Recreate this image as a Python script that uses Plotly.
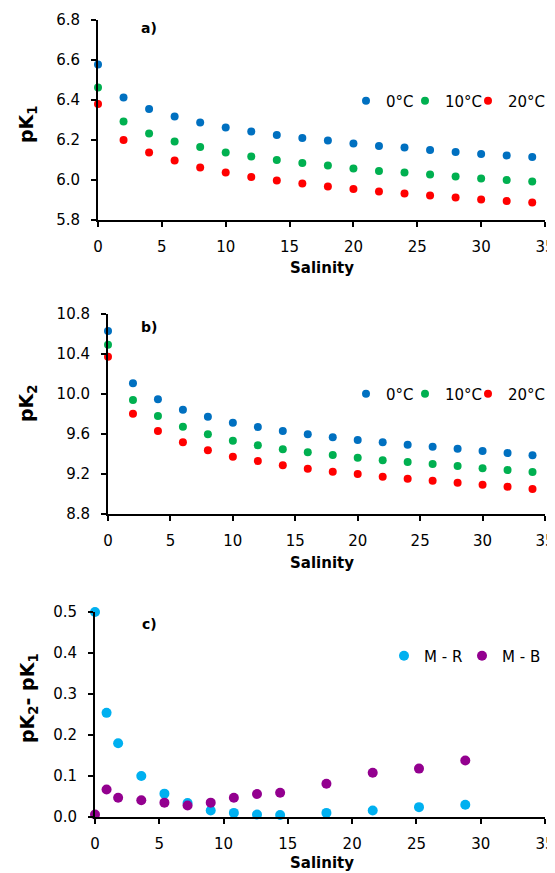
import plotly.graph_objects as go

# salinity steps for panels a) and b)
sal = [0, 2, 4, 6, 8, 10, 12, 14, 16, 18, 20, 22, 24, 26, 28, 30, 32, 34]

# pK1 at 0, 10, 20 degC
pk1_t0 = [6.578, 6.412, 6.355, 6.317, 6.287, 6.263, 6.242, 6.225, 6.21, 6.197,
          6.183, 6.17, 6.162, 6.15, 6.14, 6.13, 6.123, 6.115]
pk1_t10 = [6.462, 6.292, 6.233, 6.193, 6.165, 6.138, 6.118, 6.1, 6.085, 6.072,
           6.058, 6.045, 6.037, 6.027, 6.018, 6.008, 6.0, 5.992]
pk1_t20 = [6.38, 6.2, 6.138, 6.097, 6.063, 6.038, 6.015, 5.998, 5.982, 5.967,
           5.955, 5.943, 5.932, 5.922, 5.912, 5.903, 5.895, 5.888]

# pK2 at 0, 10, 20 degC
pk2_t0 = [10.63, 10.107, 9.947, 9.843, 9.773, 9.713, 9.67, 9.63, 9.597, 9.567,
          9.54, 9.517, 9.493, 9.473, 9.453, 9.43, 9.41, 9.387]
pk2_t10 = [10.493, 9.94, 9.78, 9.673, 9.597, 9.533, 9.487, 9.447, 9.417, 9.39,
           9.363, 9.337, 9.32, 9.3, 9.28, 9.257, 9.24, 9.22]
pk2_t20 = [10.373, 9.803, 9.63, 9.517, 9.437, 9.373, 9.33, 9.287, 9.253, 9.223,
           9.2, 9.173, 9.153, 9.133, 9.113, 9.093, 9.073, 9.05]

# panel c) differences
sal_c = [0, 0.9, 1.8, 3.6, 5.4, 7.2, 9.0, 10.8, 12.6, 14.4, 18.0, 21.6, 25.2, 28.8]
diff_mr = [0.5, 0.254, 0.18, 0.1, 0.057, 0.034, 0.016, 0.01, 0.006, 0.005,
           0.01, 0.016, 0.024, 0.03]
diff_mb = [0.006, 0.067, 0.047, 0.041, 0.035, 0.028, 0.035, 0.047, 0.056, 0.059,
           0.081, 0.108, 0.118, 0.138]

temps = ["0°C", "10°C", "20°C"]
cols = ["#0070C0", "#00B050", "#FF0000"]
FONT = "DejaVu Sans"

# page has an 8px body margin, so the figure is drawn 8px in from the corner
OFF = 8
W, H = 555 - OFF, 873 - OFF
XEND = 545  # right end of the x axes (px)


def px(p):
    return (p - OFF) / W


def py(p):
    return 1 - (p - OFF) / H


fig = go.Figure()

# one legend per entry so each entry can sit where the original has it
leg_a = [("legend", 366), ("legend2", 425), ("legend3", 488)]
leg_b = [("legend4", 366), ("legend5", 425), ("legend6", 488)]
leg_c = [("legend7", 404), ("legend8", 482)]

for name, ys, c, (lg, _) in zip(temps, [pk1_t0, pk1_t10, pk1_t20], cols, leg_a):
    fig.add_trace(go.Scatter(x=sal, y=ys, mode="markers", name=name, cliponaxis=False,
                             marker=dict(color=c, size=8), xaxis="x", yaxis="y", legend=lg))
for name, ys, c, (lg, _) in zip(temps, [pk2_t0, pk2_t10, pk2_t20], cols, leg_b):
    fig.add_trace(go.Scatter(x=sal, y=ys, mode="markers", name=name, cliponaxis=False,
                             marker=dict(color=c, size=8), xaxis="x2", yaxis="y2", legend=lg))
fig.add_trace(go.Scatter(x=sal_c, y=diff_mr, mode="markers", name="M - R", cliponaxis=False,
                         marker=dict(color="#00B0F0", size=10), xaxis="x3", yaxis="y3",
                         legend=leg_c[0][0]))
fig.add_trace(go.Scatter(x=sal_c, y=diff_mb, mode="markers", name="M - B", cliponaxis=False,
                         marker=dict(color="#93008F", size=10), xaxis="x3", yaxis="y3",
                         legend=leg_c[1][0]))


def xax(x0, anchor):
    return dict(domain=[px(x0), px(XEND)], range=[0, 35], dtick=5, tick0=0, anchor=anchor,
                showline=True, linecolor="black", linewidth=2, ticks="outside", ticklen=5,
                tickwidth=2, tickcolor="black", showgrid=False, zeroline=False, automargin=False,
                ticklabelstandoff=7, ticklabeloverflow="allow",
                tickfont=dict(size=15, color="black"))


def yax(top, bot, rng, dt, anchor):
    return dict(domain=[py(bot), py(top)], range=rng, dtick=dt, tick0=rng[0], anchor=anchor,
                tickformat=".1f", showline=True, linecolor="black", linewidth=2,
                ticks="outside", ticklen=5, tickwidth=2, tickcolor="black", showgrid=False,
                zeroline=False, automargin=False, ticklabelstandoff=8,
                tickfont=dict(size=15, color="black"))


def leg(marker_x, y):
    # symbol centre sits about 20px right of the legend's left edge
    return dict(orientation="h", x=px(marker_x - 20), xanchor="left", y=py(y), yanchor="middle",
                font=dict(size=15, color="black"), bgcolor="rgba(0,0,0,0)",
                borderwidth=0, itemwidth=30)


legends = {}
for lg, mx in leg_a:
    legends[lg] = leg(mx, 101)
for lg, mx in leg_b:
    legends[lg] = leg(mx, 394)
for lg, mx in leg_c:
    legends[lg] = leg(mx, 656)

ann = []
for txt, y in [("a)", 28), ("b)", 327), ("c)", 624)]:
    ann.append(dict(text="<b>%s</b>" % txt, x=px(149), y=py(y), xref="paper", yref="paper",
                    xanchor="center", yanchor="middle", showarrow=False,
                    font=dict(size=14, color="black")))
for y in [268, 563, 863]:
    ann.append(dict(text="<b>Salinity</b>", x=px(322), y=py(y), xref="paper", yref="paper",
                    xanchor="center", yanchor="middle", showarrow=False,
                    font=dict(size=15, color="black")))
for txt, y in [("pK<sub>1</sub>", 124), ("pK<sub>2</sub>", 403), ("pK<sub>2</sub>- pK<sub>1</sub>", 698)]:
    ann.append(dict(text="<b>%s</b>" % txt, x=px(28), y=py(y), xref="paper", yref="paper",
                    xanchor="center", yanchor="middle", showarrow=False, textangle=-90,
                    font=dict(size=19, color="black")))

fig.update_layout(
    width=W, height=H, margin=dict(l=0, r=0, t=0, b=0, pad=0, autoexpand=False),
    paper_bgcolor="white", plot_bgcolor="white",
    font=dict(family=FONT, color="black"),
    xaxis=xax(98, "y"), yaxis=yax(20, 220, [5.8, 6.8], 0.2, "x"),
    xaxis2=xax(108, "y2"), yaxis2=yax(314, 514, [8.8, 10.8], 0.4, "x2"),
    xaxis3=xax(95, "y3"), yaxis3=yax(612, 817, [0, 0.5], 0.1, "x3"),
    annotations=ann, showlegend=True,
    **legends,
)

fig.write_html("out.html")
